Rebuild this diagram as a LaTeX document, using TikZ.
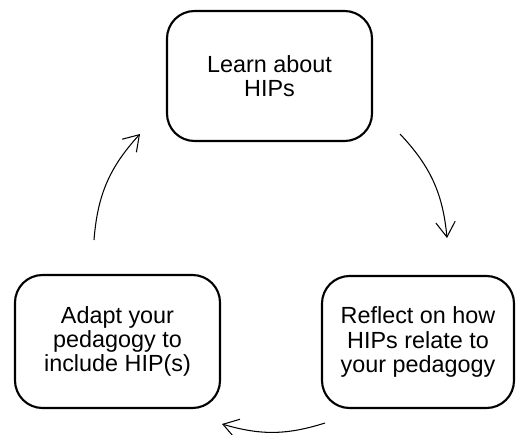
\documentclass[tikz,border=0pt]{standalone}
\usepackage{fontspec}
\setmainfont{Liberation Sans}
\usetikzlibrary{arrows.meta}
\tikzset{
    stepbox/.style={draw, line width=1.2pt, rounded corners=0.55cm, align=center,
        font=\fontsize{13.3}{13.8}\selectfont, inner sep=0pt},
    cyclearrow/.style={-{Straight Barb[length=8.5pt,width=11pt]}, line width=0.6pt}
}
\begin{document}
\begin{tikzpicture}
        \useasboundingbox (0,0) rectangle (10.34,8.68);
        % box
        \node[stepbox, minimum width=4.1cm, minimum height=2.6cm] (learn) at (5.39,7.16) {Learn about\\HIPs};
        \node[stepbox, minimum width=3.84cm, minimum height=2.64cm] (reflect) at (8.36,1.84) {Reflect on how\\HIPs relate to\\your pedagogy};
        \node[stepbox, minimum width=4.1cm, minimum height=2.66cm] (adapt) at (2.35,1.85) {Adapt your\\pedagogy to\\include HIP(s)};
        % ends of arrows
        \coordinate (a1s) at (8.0,6.0);\coordinate (a1e) at (8.94,3.92);
        \coordinate (a2s) at (6.5,0.22);\coordinate (a2e) at (4.44,0.2);
        \coordinate (a3s) at (1.88,3.88);\coordinate (a3e) at (2.8,6.0);
        % arrows
        \draw[cyclearrow] (a1s) to[bend left=19] (a1e);
        \draw[cyclearrow] (a2s) to[bend left=17] (a2e);
        \draw[cyclearrow] (a3s) to[bend left=19] (a3e);
\end{tikzpicture}
\end{document}
